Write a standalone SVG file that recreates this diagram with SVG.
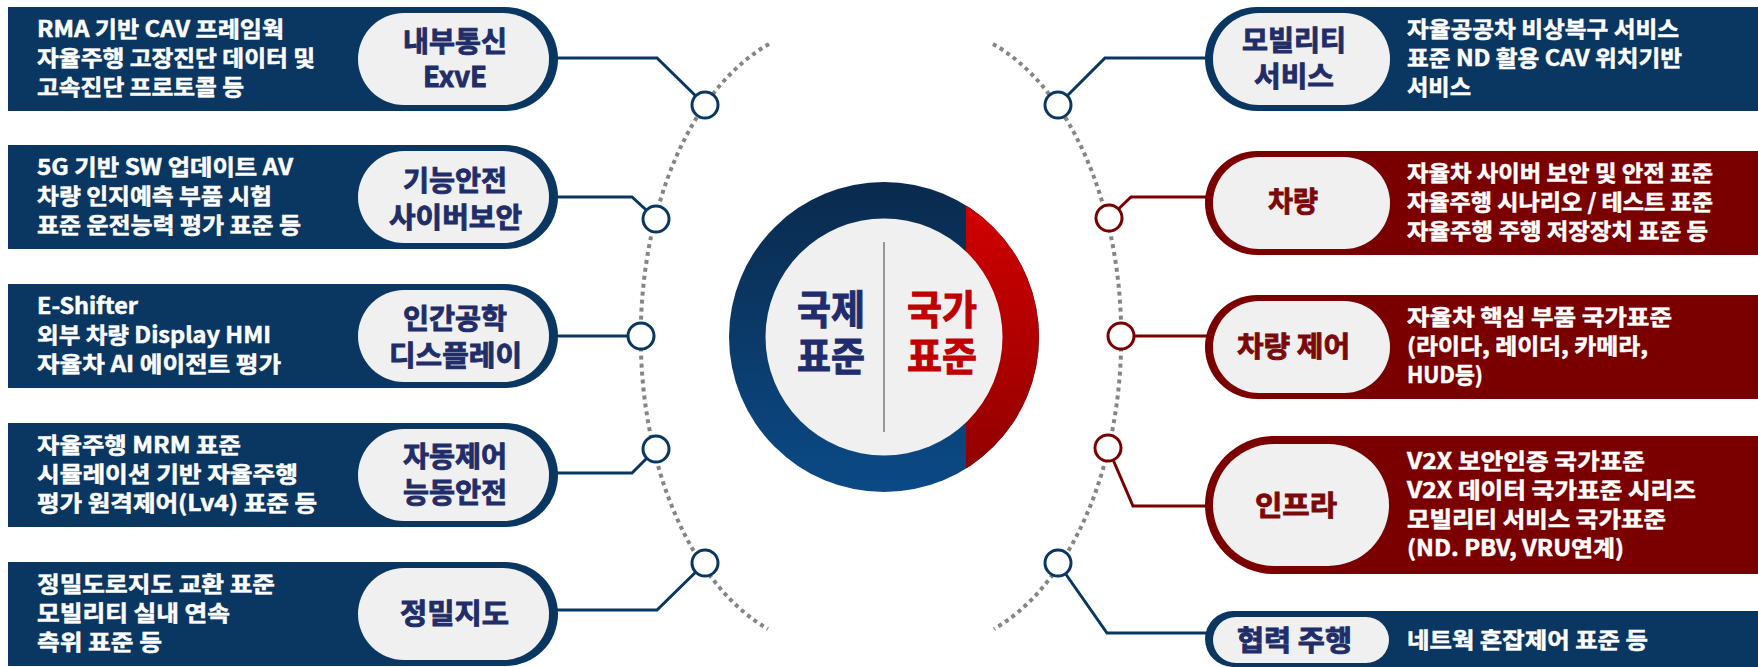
<svg xmlns="http://www.w3.org/2000/svg" width="1758" height="667" viewBox="0 0 1758 667">
<defs>
<style>
.navy{fill:#0a3762}
.red{fill:#7a0000}
.pill{fill:#f0f0f0}
.desc{font-family:'Noto Sans CJK KR','Noto Sans',sans-serif;font-weight:700;font-size:22px;fill:#ffffff;stroke:#ffffff;stroke-width:0.5}
.lbl{font-family:'Noto Sans CJK KR','Noto Sans',sans-serif;font-weight:700;font-size:28px;fill:#1f2d68;stroke:#1f2d68;stroke-width:0.9}
.lblr{fill:#7a0a0a;stroke:#7a0a0a}
.big{font-family:'Noto Sans CJK KR','Noto Sans',sans-serif;font-weight:700;font-size:40px;stroke-width:1}
.ln{fill:none;stroke:#0a3762;stroke-width:3}
.lnr{fill:none;stroke:#7a0000;stroke-width:3}
.dot{fill:#ffffff;stroke:#0a3762;stroke-width:3}
.dotr{fill:#ffffff;stroke:#7a0000;stroke-width:3}
.arc{fill:none;stroke:#858585;stroke-width:4;stroke-dasharray:4 4}
</style>
<linearGradient id="gNavy" x1="0" y1="0" x2="0" y2="1">
<stop offset="0" stop-color="#0a2a4d"/>
<stop offset="1" stop-color="#0b4a86"/>
</linearGradient>
<linearGradient id="gRed" x1="0" y1="0" x2="0" y2="1">
<stop offset="0" stop-color="#d60000"/>
<stop offset="1" stop-color="#8c0000"/>
</linearGradient>
<clipPath id="cOuter"><circle cx="884" cy="337" r="155"/></clipPath>
</defs>

<g id="connectors">
<path class="arc" d="M 769 44 A 191 310 0 0 0 768 629"/>
<path class="arc" d="M 993 44 A 191 310 0 0 1 994 629"/>
<path class="ln" d="M 552 58 H 657 L 705 105"/>
<path class="ln" d="M 552 197 H 632 L 656 219"/>
<path class="ln" d="M 552 336 H 641"/>
<path class="ln" d="M 552 473 H 632 L 656 449"/>
<path class="ln" d="M 552 610 H 657 L 705 563"/>
<path class="ln" d="M 1210 58 H 1105 L 1058 105"/>
<path class="lnr" d="M 1210 197 H 1131 L 1109 218"/>
<path class="lnr" d="M 1210 336 H 1121"/>
<path class="lnr" d="M 1210 506 H 1133 L 1108 448"/>
<path class="ln" d="M 1210 633 H 1107 L 1058 563"/>
<circle class="dot" cx="705" cy="105" r="13"/>
<circle class="dot" cx="656" cy="219" r="13"/>
<circle class="dot" cx="641" cy="336" r="13"/>
<circle class="dot" cx="656" cy="449" r="13"/>
<circle class="dot" cx="705" cy="563" r="13"/>
<circle class="dot" cx="1058" cy="105" r="13"/>
<circle class="dotr" cx="1109" cy="218" r="13"/>
<circle class="dotr" cx="1121" cy="336" r="13"/>
<circle class="dotr" cx="1108" cy="448" r="13"/>
<circle class="dot" cx="1058" cy="563" r="13"/>
</g>

<g id="center">
<circle cx="884" cy="337" r="155" fill="url(#gNavy)"/>
<rect x="966" y="180" width="80" height="315" fill="url(#gRed)" clip-path="url(#cOuter)"/>
<circle cx="884" cy="337" r="118.5" fill="#f0f0f0"/>
<line x1="884" y1="242" x2="884" y2="432" stroke="#7a7a7a" stroke-width="1.5"/>
<text class="big" fill="#1f2d6e" stroke="#1f2d6e"><tspan x="797" y="324" textLength="68" lengthAdjust="spacingAndGlyphs">국제</tspan><tspan x="797" y="371" textLength="68" lengthAdjust="spacingAndGlyphs">표준</tspan></text>
<text class="big" fill="#c00000" stroke="#c00000"><tspan x="907" y="324" textLength="70" lengthAdjust="spacingAndGlyphs">국가</tspan><tspan x="907" y="371" textLength="70" lengthAdjust="spacingAndGlyphs">표준</tspan></text>
</g>

<g id="node-l1">
<path class="navy" d="M 8 7 H 506 A 52 52 0 0 1 506 111 H 8 Z"/>
<rect class="pill" x="358" y="13" width="191" height="92" rx="46"/>
<text class="desc" x="37" y="37" textLength="247" lengthAdjust="spacingAndGlyphs">RMA 기반 CAV 프레임웍</text>
<text class="desc" x="37" y="66" textLength="278" lengthAdjust="spacingAndGlyphs">자율주행 고장진단 데이터 및</text>
<text class="desc" x="37" y="95" textLength="207" lengthAdjust="spacingAndGlyphs">고속진단 프로토콜 등</text>
<text class="lbl"><tspan x="403" y="52" textLength="104" lengthAdjust="spacingAndGlyphs">내부통신</tspan><tspan x="423" y="87" textLength="64" lengthAdjust="spacingAndGlyphs">ExvE</tspan></text>
</g>

<g id="node-l2">
<path class="navy" d="M 8 145 H 506 A 52 52 0 0 1 506 249 H 8 Z"/>
<rect class="pill" x="358" y="151" width="191" height="92" rx="46"/>
<text class="desc" x="37" y="175" textLength="256" lengthAdjust="spacingAndGlyphs">5G 기반 SW 업데이트 AV</text>
<text class="desc" x="37" y="204" textLength="235" lengthAdjust="spacingAndGlyphs">차량 인지예측 부품 시험</text>
<text class="desc" x="37" y="233" textLength="264" lengthAdjust="spacingAndGlyphs">표준 운전능력 평가 표준 등</text>
<text class="lbl"><tspan x="403" y="191" textLength="104" lengthAdjust="spacingAndGlyphs">기능안전</tspan><tspan x="389" y="228" textLength="133" lengthAdjust="spacingAndGlyphs">사이버보안</tspan></text>
</g>

<g id="node-l3">
<path class="navy" d="M 8 284 H 506 A 52 52 0 0 1 506 388 H 8 Z"/>
<rect class="pill" x="358" y="290" width="191" height="92" rx="46"/>
<text class="desc" x="37" y="314" textLength="101" lengthAdjust="spacingAndGlyphs">E-Shifter</text>
<text class="desc" x="37" y="343" textLength="234" lengthAdjust="spacingAndGlyphs">외부 차량 Display HMI</text>
<text class="desc" x="37" y="372" textLength="244" lengthAdjust="spacingAndGlyphs">자율차 AI 에이전트 평가</text>
<text class="lbl"><tspan x="403" y="329" textLength="104" lengthAdjust="spacingAndGlyphs">인간공학</tspan><tspan x="389" y="366" textLength="133" lengthAdjust="spacingAndGlyphs">디스플레이</tspan></text>
</g>

<g id="node-l4">
<path class="navy" d="M 8 423 H 506 A 52 52 0 0 1 506 527 H 8 Z"/>
<rect class="pill" x="358" y="429" width="191" height="92" rx="46"/>
<text class="desc" x="37" y="453" textLength="204" lengthAdjust="spacingAndGlyphs">자율주행 MRM 표준</text>
<text class="desc" x="37" y="482" textLength="261" lengthAdjust="spacingAndGlyphs">시뮬레이션 기반 자율주행</text>
<text class="desc" x="37" y="511" textLength="280" lengthAdjust="spacingAndGlyphs">평가 원격제어(Lv4) 표준 등</text>
<text class="lbl"><tspan x="403" y="467" textLength="104" lengthAdjust="spacingAndGlyphs">자동제어</tspan><tspan x="403" y="503" textLength="104" lengthAdjust="spacingAndGlyphs">능동안전</tspan></text>
</g>

<g id="node-l5">
<path class="navy" d="M 8 562 H 506 A 52 52 0 0 1 506 666 H 8 Z"/>
<rect class="pill" x="358" y="568" width="191" height="92" rx="46"/>
<text class="desc" x="37" y="592" textLength="238" lengthAdjust="spacingAndGlyphs">정밀도로지도 교환 표준</text>
<text class="desc" x="37" y="621" textLength="193" lengthAdjust="spacingAndGlyphs">모빌리티 실내 연속</text>
<text class="desc" x="37" y="650" textLength="125" lengthAdjust="spacingAndGlyphs">측위 표준 등</text>
<text class="lbl" x="400" y="624" textLength="109" lengthAdjust="spacingAndGlyphs">정밀지도</text>
</g>

<g id="node-r1">
<path class="navy" d="M 1758 7 H 1257 A 52 52 0 0 0 1257 111 H 1758 Z"/>
<rect class="pill" x="1213" y="13" width="177" height="92" rx="46"/>
<text class="lbl"><tspan x="1242" y="51" textLength="104" lengthAdjust="spacingAndGlyphs">모빌리티</tspan><tspan x="1254" y="87" textLength="80" lengthAdjust="spacingAndGlyphs">서비스</tspan></text>
<text class="desc" x="1407" y="37" textLength="272" lengthAdjust="spacingAndGlyphs">자율공공차 비상복구 서비스</text>
<text class="desc" x="1407" y="66" textLength="275" lengthAdjust="spacingAndGlyphs">표준 ND 활용 CAV 위치기반</text>
<text class="desc" x="1407" y="95" textLength="64" lengthAdjust="spacingAndGlyphs">서비스</text>
</g>

<g id="node-r2">
<path class="red" d="M 1758 151 H 1257 A 52 52 0 0 0 1257 255 H 1758 Z"/>
<rect class="pill" x="1213" y="157" width="177" height="92" rx="46"/>
<text class="lbl lblr" x="1268" y="212" textLength="50" lengthAdjust="spacingAndGlyphs">차량</text>
<text class="desc" x="1407" y="181" textLength="306" lengthAdjust="spacingAndGlyphs">자율차 사이버 보안 및 안전 표준</text>
<text class="desc" x="1407" y="210" textLength="306" lengthAdjust="spacingAndGlyphs">자율주행 시나리오 / 테스트 표준</text>
<text class="desc" x="1407" y="239" textLength="301" lengthAdjust="spacingAndGlyphs">자율주행 주행 저장장치 표준 등</text>
</g>

<g id="node-r3">
<path class="red" d="M 1758 295 H 1257 A 52 52 0 0 0 1257 399 H 1758 Z"/>
<rect class="pill" x="1213" y="301" width="177" height="92" rx="46"/>
<text class="lbl lblr" x="1237" y="357" textLength="113" lengthAdjust="spacingAndGlyphs">차량 제어</text>
<text class="desc" x="1407" y="325" textLength="265" lengthAdjust="spacingAndGlyphs">자율차 핵심 부품 국가표준</text>
<text class="desc" x="1407" y="354" textLength="241" lengthAdjust="spacingAndGlyphs">(라이다, 레이더, 카메라,</text>
<text class="desc" x="1407" y="383" textLength="76" lengthAdjust="spacingAndGlyphs">HUD등)</text>
</g>

<g id="node-r4">
<path class="red" d="M 1758 436 H 1274 A 69 69 0 0 0 1274 574 H 1758 Z"/>
<rect class="pill" x="1213" y="444" width="176" height="122" rx="61"/>
<text class="lbl lblr" x="1255" y="516" textLength="82" lengthAdjust="spacingAndGlyphs">인프라</text>
<text class="desc" x="1407" y="469" textLength="238" lengthAdjust="spacingAndGlyphs">V2X 보안인증 국가표준</text>
<text class="desc" x="1407" y="498" textLength="289" lengthAdjust="spacingAndGlyphs">V2X 데이터 국가표준 시리즈</text>
<text class="desc" x="1407" y="527" textLength="259" lengthAdjust="spacingAndGlyphs">모빌리티 서비스 국가표준</text>
<text class="desc" x="1407" y="556" textLength="217" lengthAdjust="spacingAndGlyphs">(ND. PBV, VRU연계)</text>
</g>

<g id="node-r5">
<path class="navy" d="M 1758 611 H 1233 A 28 28 0 0 0 1233 667 H 1758 Z"/>
<rect class="pill" x="1213" y="617" width="176" height="46" rx="23"/>
<text class="lbl" x="1237" y="651" textLength="115" lengthAdjust="spacingAndGlyphs">협력 주행</text>
<text class="desc" x="1407" y="648" textLength="241" lengthAdjust="spacingAndGlyphs">네트웍 혼잡제어 표준 등</text>
</g>
</svg>
